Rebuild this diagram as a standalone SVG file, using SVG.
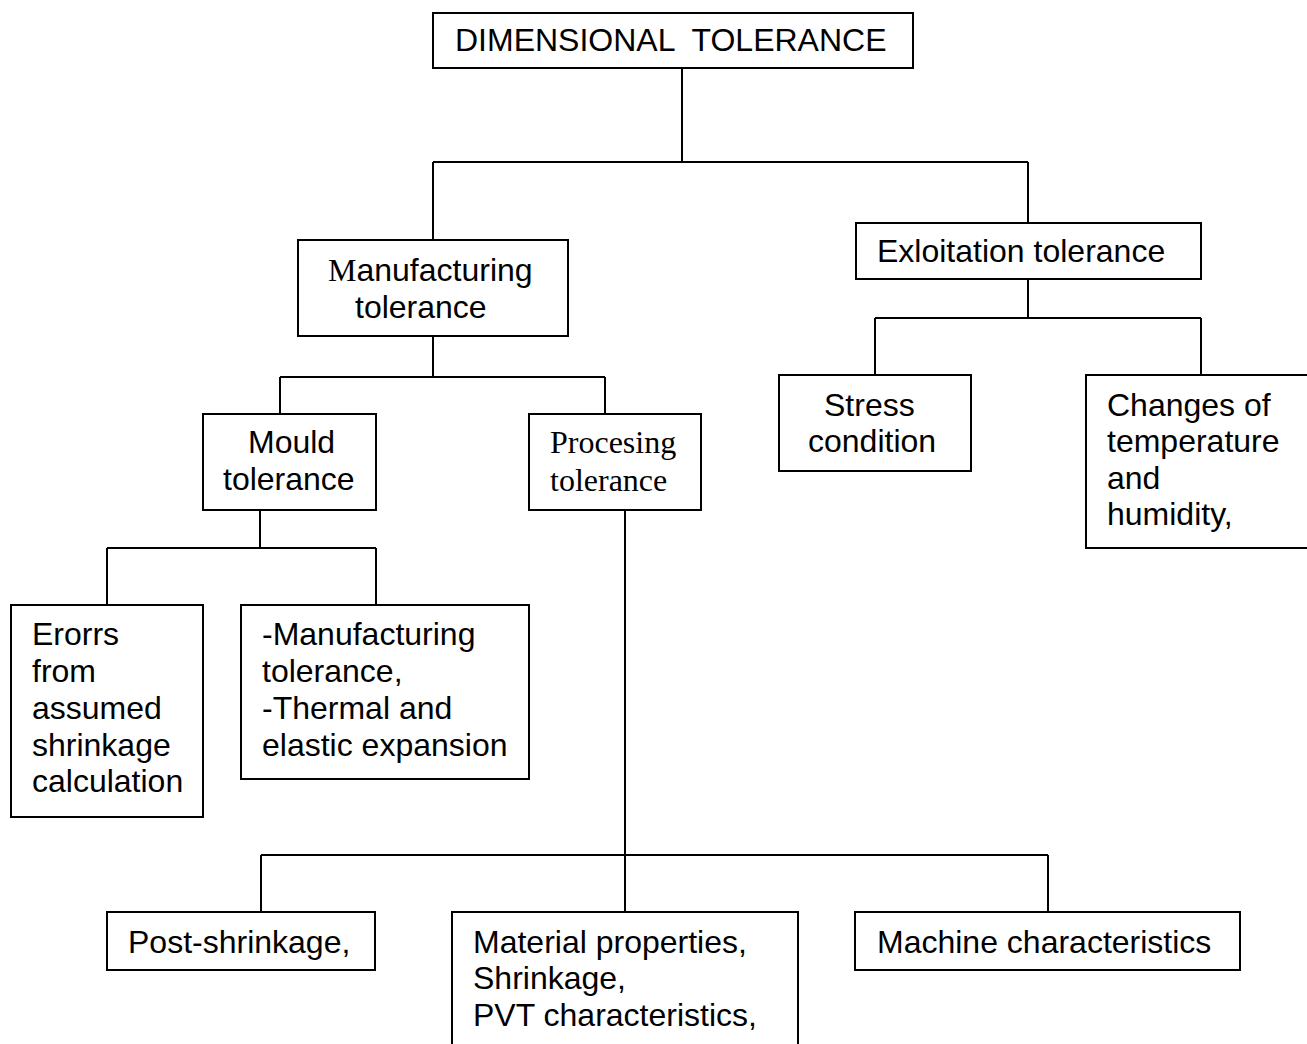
<svg xmlns="http://www.w3.org/2000/svg" width="1307" height="1044" viewBox="0 0 1307 1044">
<style>
.box{fill:#fff;stroke:#000;stroke-width:2}
.c{fill:none;stroke:#000;stroke-width:2}
text{font-family:"Liberation Sans",Arial,sans-serif;font-size:32px;fill:#000}
.serif{font-family:"Liberation Serif","Times New Roman",serif}
</style>
<rect width="1307" height="1044" fill="#fff"/>
<g id="connectors">
<path class="c" d="M682 68V162M433 162H1028M433 162V240M1028 162V223"/>
<path class="c" d="M433 336V377M280 377H605M280 377V414M605 377V414"/>
<path class="c" d="M260 510V548M107 548H376M107 548V605M376 548V605"/>
<path class="c" d="M625 510V855M261 855H1048M261 855V912M625 855V912M1048 855V912"/>
<path class="c" d="M1028 279V318M875 318H1201M875 318V375M1201 318V375"/>
</g>
<g id="n-dimensional">
<rect class="box" x="433" y="13" width="480" height="55"/>
<text x="455" y="51" xml:space="preserve">DIMENSIONAL  TOLERANCE</text>
</g>
<g id="n-manufacturing">
<rect class="box" x="298" y="240" width="270" height="96"/>
<text x="328" y="281"><tspan class="serif">M</tspan>anufacturing</text>
<text x="355" y="318">tolerance</text>
</g>
<g id="n-exploitation">
<rect class="box" x="856" y="223" width="345" height="56"/>
<text x="877" y="262">Exloitation tolerance</text>
</g>
<g id="n-mould">
<rect class="box" x="203" y="414" width="173" height="96"/>
<text x="248" y="453">Mould</text>
<text x="223" y="490">tolerance</text>
</g>
<g id="n-processing">
<rect class="box" x="529" y="414" width="172" height="96"/>
<text class="serif" x="550" y="453">Procesing</text>
<text class="serif" x="550" y="491">tolerance</text>
</g>
<g id="n-stress">
<rect class="box" x="779" y="375" width="192" height="96"/>
<text x="824" y="416">Stress</text>
<text x="808" y="452">condition</text>
</g>
<g id="n-changes">
<rect class="box" x="1086" y="375" width="240" height="173"/>
<text x="1107" y="416">Changes of</text>
<text x="1107" y="452">temperature</text>
<text x="1107" y="489">and</text>
<text x="1107" y="525">humidity,</text>
</g>
<g id="n-errors">
<rect class="box" x="11" y="605" width="192" height="212"/>
<text x="32" y="645">Erorrs</text>
<text x="32" y="682">from</text>
<text x="32" y="719">assumed</text>
<text x="32" y="756">shrinkage</text>
<text x="32" y="792">calculation</text>
</g>
<g id="n-mould-items">
<rect class="box" x="241" y="605" width="288" height="174"/>
<text x="262" y="645">-Manufacturing</text>
<text x="262" y="682">tolerance,</text>
<text x="262" y="719">-Thermal and</text>
<text x="262" y="756">elastic expansion</text>
</g>
<g id="n-post">
<rect class="box" x="107" y="912" width="268" height="58"/>
<text x="128" y="953">Post-shrinkage,</text>
</g>
<g id="n-material">
<rect class="box" x="452" y="912" width="346" height="150"/>
<text x="473" y="953">Material properties,</text>
<text x="473" y="989">Shrinkage,</text>
<text x="473" y="1026">PVT characteristics,</text>
</g>
<g id="n-machine">
<rect class="box" x="855" y="912" width="385" height="58"/>
<text x="877" y="953">Machine characteristics</text>
</g>
</svg>
